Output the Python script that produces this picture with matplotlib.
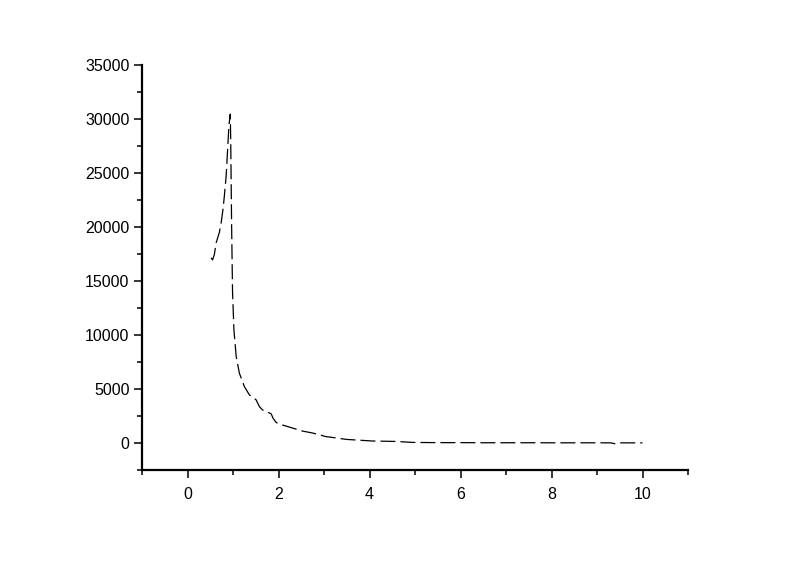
import matplotlib
matplotlib.use("Agg")
import matplotlib.pyplot as plt
from matplotlib.ticker import MultipleLocator

# curve
x_vals = [0.52, 0.55, 0.59, 0.63, 0.70, 0.74, 0.78, 0.81, 0.85, 0.87, 0.89, 0.91,
          0.94, 0.95, 0.96, 0.97, 0.99, 1.02, 1.07, 1.14, 1.25, 1.36, 1.45, 1.51,
          1.58, 1.65, 1.75, 1.84, 1.88, 1.95, 2.09, 2.31, 2.53, 2.75, 2.83, 3.05,
          3.12, 3.49, 3.80, 4.07, 4.59, 4.95, 5.5, 6.0, 6.5, 7.0, 7.5, 8.0, 8.5,
          9.0, 9.3, 9.4, 9.5, 10.0]
y_vals = [17150, 16950, 17450, 18540, 19500, 20400, 21630, 22870, 24730, 26280, 27830, 29370,
          30450, 28000, 24000, 20000, 14000, 10500, 8010, 6470, 5230, 4460, 4200, 3990,
          3370, 3060, 2900, 2700, 2300, 1900, 1670, 1390, 1110, 930, 840, 590,
          560, 340, 260, 190, 150, 60, 40, 40, 30, 30, 30, 25, 25,
          25, 20, -60, 20, 20]

xticks = [0, 2, 4, 6, 8, 10]
yticks = [0, 5000, 10000, 15000, 20000, 25000, 30000, 35000]

plt.rcParams['font.family'] = ['Liberation Sans', 'DejaVu Sans']

fig = plt.figure(figsize=(8, 5.65), dpi=100)
ax = fig.add_axes([0.1775, 0.168, 0.6825, 0.717])

ax.plot(x_vals, y_vals, color='black', linewidth=0.9, linestyle=(0, (12, 4)))

ax.set_xlim(-1, 11)
ax.set_ylim(-2500, 35000)
ax.set_xticks(xticks)
ax.set_yticks(yticks)
ax.xaxis.set_minor_locator(MultipleLocator(1))
ax.yaxis.set_minor_locator(MultipleLocator(2500))

for side in ['top', 'right']:
    ax.spines[side].set_visible(False)
for side in ['left', 'bottom']:
    ax.spines[side].set_linewidth(1.6)

ax.tick_params(axis='both', which='major', direction='out', length=6, width=1.1,
               labelsize=11.5, colors='black')
ax.tick_params(axis='both', which='minor', direction='out', length=3.5, width=1.1)
ax.tick_params(axis='x', which='major', pad=6)
ax.tick_params(axis='y', which='major', pad=3)

fig.savefig('out.png', dpi=100)
